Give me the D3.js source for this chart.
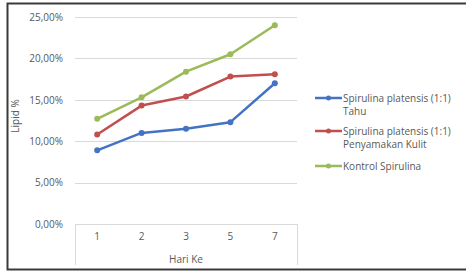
<!DOCTYPE html>
<html>
<head>
<meta charset="utf-8">
<script src="https://cdn.jsdelivr.net/npm/d3@7"></script>
<style>
  body { margin: 0; background: #fff; }
  text { font-family: "Open Sans", "Liberation Sans", sans-serif; fill: #595959; }
</style>
</head>
<body>
<div id="chart"></div>
<script>
var hari = ["1", "2", "3", "5", "7"];
var tahu = [0.089, 0.110, 0.115, 0.123, 0.170];
var kulit = [0.108, 0.143, 0.154, 0.178, 0.181];
var kontrol = [0.127, 0.153, 0.184, 0.205, 0.240];
var yTicks = [0, 0.05, 0.10, 0.15, 0.20, 0.25];
var seriesNames = [["Spirulina platensis (1:1)", "Tahu"], ["Spirulina platensis (1:1)", "Penyamakan Kulit"], ["Kontrol Spirulina"]];
var seriesColors = ["#4472c4", "#c0504d", "#9bbb59"];

var width = 466, height = 273,
  margin = {left: 75, right: 169, top: 17, bottom: 49};

var svg = d3.select("#chart").append("svg")
  .attr("width", width)
  .attr("height", height);

// outer frame
svg.append("rect")
  .attr("x", 7.5).attr("y", 3.5)
  .attr("width", 462).attr("height", 266)
  .attr("fill", "none")
  .attr("stroke", "#3a3a3a")
  .attr("stroke-width", 2);

var chart = svg.append("g")
  .attr("transform", "translate(" + margin.left + "," + margin.top + ")");

var w = width - margin.left - margin.right,
  h = height - margin.top - margin.bottom;

var x = d3.scaleBand().domain(hari).range([0, w]);
var y = d3.scaleLinear().domain([0, 0.25]).range([h, 0]);
var fmt = function (d) { return d3.format(".2f")(d * 100).replace(".", ",") + "%"; };

// grid lines
chart.append("g").selectAll("line")
  .data(yTicks).enter().append("line")
  .attr("x1", 0).attr("x2", w)
  .attr("y1", function (d) { return Math.round(y(d)) + 0.5; })
  .attr("y2", function (d) { return Math.round(y(d)) + 0.5; })
  .attr("stroke", "#d9d9d9");

// y tick labels
var yAxis = chart.append("g")
  .call(d3.axisLeft(y).tickValues(yTicks).tickFormat(fmt).tickSize(0).tickPadding(12));
yAxis.select(".domain").remove();
yAxis.selectAll("text").style("font-size", "10px");

// x axis box
chart.append("g").selectAll("line")
  .data([0, w]).enter().append("line")
  .attr("x1", function (d) { return d + 0.5; })
  .attr("x2", function (d) { return d + 0.5; })
  .attr("y1", h).attr("y2", h + 41)
  .attr("stroke", "#d9d9d9");

var xAxis = chart.append("g")
  .attr("transform", "translate(0," + h + ")")
  .call(d3.axisBottom(x).tickSize(0).tickPadding(9));
xAxis.select(".domain").remove();
xAxis.selectAll("text").style("font-size", "10px");

chart.append("text")
  .attr("x", w / 2).attr("y", h + 39)
  .attr("text-anchor", "middle")
  .style("font-size", "10px")
  .text("Hari Ke");

svg.append("text")
  .attr("transform", "translate(19,116) rotate(-90)")
  .attr("text-anchor", "middle")
  .style("font-size", "10px")
  .text("Lipid %");

// lines
var line = d3.line()
  .x(function (d, i) { return x(hari[i]) + x.bandwidth() / 2; })
  .y(function (d) { return y(d); });

[tahu, kulit, kontrol].forEach(function (vals, k) {
  chart.append("path")
    .datum(vals)
    .attr("d", line)
    .attr("fill", "none")
    .attr("stroke", seriesColors[k])
    .attr("stroke-width", 2.5)
    .attr("stroke-linejoin", "round");
  chart.selectAll(".p" + k)
    .data(vals).enter().append("circle")
    .attr("cx", function (d, i) { return x(hari[i]) + x.bandwidth() / 2; })
    .attr("cy", function (d) { return y(d); })
    .attr("r", 3)
    .attr("fill", seriesColors[k]);
});

// legend
var legY = [98, 131, 166];
var leg = svg.append("g");
seriesNames.forEach(function (names, k) {
  leg.append("line")
    .attr("x1", 315).attr("x2", 342)
    .attr("y1", legY[k]).attr("y2", legY[k])
    .attr("stroke", seriesColors[k])
    .attr("stroke-width", 2.5);
  leg.append("circle")
    .attr("cx", 328.5).attr("cy", legY[k]).attr("r", 2.5)
    .attr("fill", seriesColors[k]);
  names.forEach(function (t, j) {
    leg.append("text")
      .attr("x", 343).attr("y", legY[k] + 3.5 + j * 13)
      .style("font-size", "10px")
      .text(t);
  });
});
</script>
</body>
</html>
